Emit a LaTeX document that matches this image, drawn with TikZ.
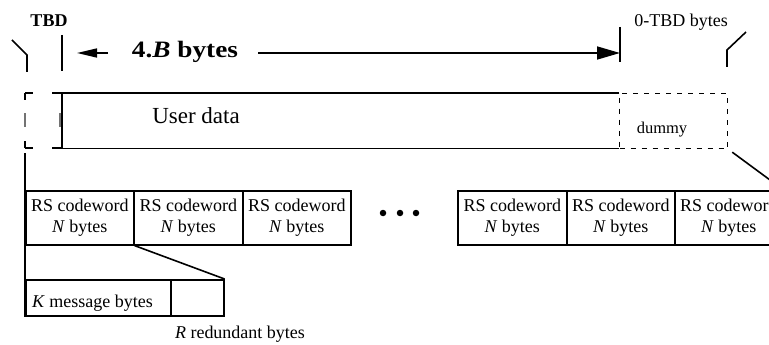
\documentclass[tikz,border=0pt]{standalone}
\usepackage{fontspec}
\setmainfont{Liberation Serif}
\usetikzlibrary{arrows.meta}
\begin{document}
\begin{tikzpicture}[x=1pt,y=-1pt,
  thick line/.style={line width=1.6pt},
  thin dash/.style={line width=1.2pt},
  cwbox/.style={draw, thick line, anchor=north west, inner sep=0pt,
    minimum height=54pt, align=center,
    font=\fontsize{18}{21}\selectfont},
  plainbox/.style={draw, thick line, anchor=north west, inner sep=0pt},
  lbl/.style={inner sep=0pt, font=\fontsize{18}{21}\selectfont},
  dot/.style={fill=black, circle, inner sep=0pt, minimum size=6.5pt}]
\useasboundingbox (0,0) rectangle (769,345);
\clip (0,0) rectangle (769,345);

% --- top annotation: the 4.B bytes span ---
\node[lbl, anchor=base, font=\fontsize{18}{21}\selectfont\bfseries] (tbd) at (49,27) {TBD};
\node[lbl, anchor=base] (zerotbd) at (681,27) {0-TBD bytes};
\node[inner sep=0pt, anchor=base, font=\fontsize{23.5}{26}\selectfont\bfseries] (span) at (185,58)
  {\scalebox{1.16}[1]{4.\textit{B} bytes}};

\coordinate (tlA) at (62,35);  \coordinate (tlB) at (62,71);
\coordinate (trA) at (620,27); \coordinate (trB) at (620,62);
\draw[thick line] (tlA) -- (tlB);
\draw[thick line] (trA) -- (trB);
\coordinate (arrL0) at (108,53); \coordinate (arrL1) at (77,53);
\coordinate (arrR0) at (258,53); \coordinate (arrR1) at (620,53);
\draw[thick line, -{Triangle[length=20pt,width=9pt]}] (arrL0) -- (arrL1);
\draw[thick line, -{Triangle[length=23pt,width=13pt]}] (arrR0) -- (arrR1);

% corner brackets above the frame
\coordinate (blA) at (12,40); \coordinate (blB) at (27,55); \coordinate (blC) at (27,72);
\draw[thick line] (blA) -- (blB) -- (blC);
\coordinate (brA) at (727,67); \coordinate (brB) at (727,50); \coordinate (brC) at (746,32);
\draw[thick line] (brA) -- (brB) -- (brC);

% --- frame: user data with dashed ends ---
\node[inner sep=0pt, anchor=north west, minimum width=557pt, minimum height=55pt] (user) at (62,93) {};
\draw[thick line] (user.north east) -- (user.north west) -- (user.south west) -- (user.south east);
\node[inner sep=0pt, anchor=base, font=\fontsize{23}{26}\selectfont] (usertext) at (196,123) {User data};

\node[draw, thin dash, dash pattern=on 5pt off 6pt, anchor=north west, inner sep=0pt,
      minimum width=108pt, minimum height=55pt] (dummy) at (619,93) {};
\node[inner sep=0pt, anchor=base, font=\fontsize{16.5}{20}\selectfont] (dummytext) at (662,133) {dummy};

% leading dashed slot
\draw[thin dash] (25,93) -- (25,100) (25,93) -- (33,93) (52,93) -- (62,93);
\draw[thin dash] (25,148) -- (25,141) (25,148) -- (33,148) (52,148) -- (62,148);
\draw[thin dash, black!55] (25,113) -- (25,127) (60,113) -- (60,127);

% --- RS codewords ---
\node[cwbox, minimum width=108pt] (c1) at (25,190) {RS codeword\\\textit{N} bytes};
\node[cwbox, minimum width=109pt] (c2) at (133,190) {RS codeword\\\textit{N} bytes};
\node[cwbox, minimum width=108pt] (c3) at (242,190) {RS codeword\\\textit{N} bytes};
\node[cwbox, minimum width=109pt] (c4) at (457,190) {RS codeword\\\textit{N} bytes};
\node[cwbox, minimum width=108pt] (c5) at (566,190) {RS codeword\\\textit{N} bytes};
\node[cwbox, minimum width=108pt] (c6) at (674,190) {RS codeword\\\textit{N} bytes};

\node[dot] (d1) at (383,213) {};
\node[dot] (d2) at (400,213) {};
\node[dot] (d3) at (416,213) {};

% --- one codeword: message and redundancy ---
\node[plainbox, minimum width=145pt, minimum height=36pt] (kbox) at (25,279) {};
\node[plainbox, minimum width=53pt, minimum height=36pt] (rbox) at (170,279) {};
\node[lbl, anchor=base west] (ktext) at (32,307) {\textit{K} message bytes};
\node[lbl, anchor=base] (rtext) at (240,338) {\textit{R} redundant bytes};

% expansion lines
\coordinate (slotfoot) at (25,153);
\draw[thick line] (slotfoot) -- (kbox.south west);
\draw[thick line, shorten <=5pt] (dummy.south east) -- (c6.north east);
\draw[thick line] (c1.south east) -- (rbox.north east);
\end{tikzpicture}
\end{document}
